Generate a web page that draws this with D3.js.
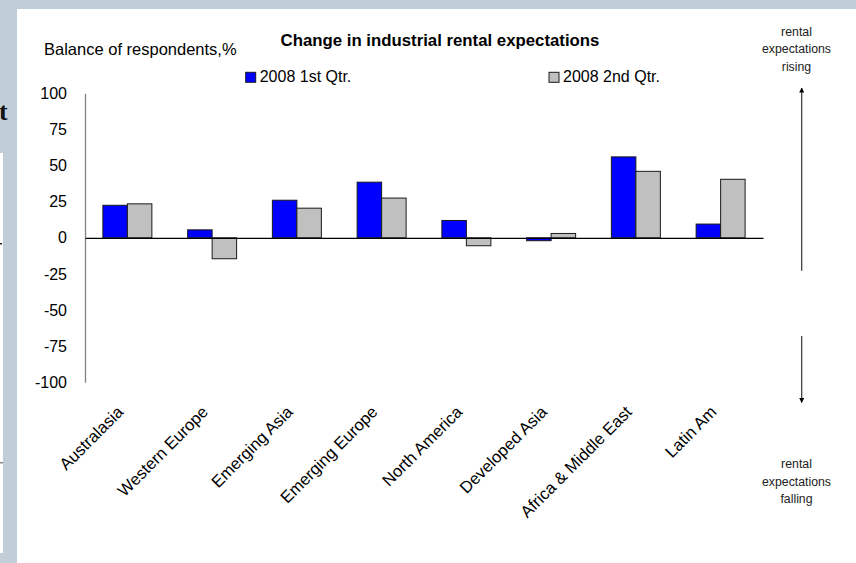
<!DOCTYPE html>
<html>
<head>
<meta charset="utf-8">
<script src="https://cdn.jsdelivr.net/npm/d3@7"></script>
<style>
  html, body { margin: 0; padding: 0; background: #c1cdd7; }
  svg { display: block; font-family: Arial, "Liberation Sans", sans-serif; }
</style>
</head>
<body>
<svg id="chart" width="856" height="563"></svg>
<script>
// Regions surveyed
const categories = ["Australasia", "Western Europe", "Emerging Asia", "Emerging Europe",
                    "North America", "Developed Asia", "Africa & Middle East", "Latin Am"];
// Balance of respondents (%) per quarter
const q1Values = [22.5, 5.5, 26, 38.5, 12, -2, 56, 9.5];
const q2Values = [23.5, -14.5, 20.5, 27.5, -5.5, 3, 46, 40.5];
const seriesNames = ["2008 1st Qtr.", "2008 2nd Qtr."];
const seriesColors = ["#0000ff", "#c0c0c0"];
const yTicks = [100, 75, 50, 25, 0, -25, -50, -75, -100];

const svg = d3.select("#chart");

// slide backdrop: white panel with a sliver of the page behind it
svg.append("rect").attr("x", 0).attr("y", 0).attr("width", 856).attr("height", 563).attr("fill", "#c1cdd7");
svg.append("rect").attr("x", 17).attr("y", 9).attr("width", 839).attr("height", 554).attr("fill", "#ffffff");
svg.append("rect").attr("x", 0).attr("y", 153).attr("width", 3).attr("height", 400).attr("fill", "#ffffff");
svg.append("text").attr("x", -1).attr("y", 120)
  .attr("font-family", "'Liberation Serif', 'Times New Roman', serif")
  .attr("font-weight", "bold").attr("font-size", 26).attr("fill", "#111").text("t");
svg.append("rect").attr("x", 0).attr("y", 243).attr("width", 2).attr("height", 1.5).attr("fill", "#222");
svg.append("rect").attr("x", 0).attr("y", 462).attr("width", 3).attr("height", 1.5).attr("fill", "#888");

// scales
const y = d3.scaleLinear().domain([-100, 100]).range([382.3, 93.3]);
const x0 = d3.scaleBand().domain(categories).range([85, 763])
  .paddingInner(0.422).paddingOuter(0.211);
const x1 = d3.scaleBand().domain([0, 1]).range([0, x0.bandwidth()]);

// y axis: labels only, gray spine
const yAxis = d3.axisLeft(y).tickValues(yTicks).tickSize(0).tickPadding(18)
  .tickFormat(d => String(d));
const gy = svg.append("g").attr("transform", "translate(85,0)").call(yAxis);
gy.select(".domain").attr("stroke", "#808080").attr("stroke-width", 1.3);
gy.selectAll("text").attr("font-size", 16).attr("fill", "#000")
  .attr("font-family", "Arial, 'Liberation Sans', sans-serif");

// bars
const rows = categories.map((c, i) => ({ cat: c, vals: [q1Values[i], q2Values[i]] }));
const groups = svg.append("g").selectAll("g").data(rows).join("g")
  .attr("transform", d => `translate(${x0(d.cat)},0)`);
groups.selectAll("rect").data(d => d.vals.map((v, k) => ({ v, k }))).join("rect")
  .attr("x", d => x1(d.k))
  .attr("width", x1.bandwidth())
  .attr("y", d => y(Math.max(0, d.v)))
  .attr("height", d => Math.abs(y(d.v) - y(0)))
  .attr("fill", d => seriesColors[d.k])
  .attr("stroke", "#1a1a1a").attr("stroke-width", 1);

// zero line with rotated category labels
const xAxis = d3.axisBottom(x0).tickSize(0).tickPadding(0);
const gx = svg.append("g").attr("transform", `translate(0,${y(0)})`).call(xAxis);
gx.select(".domain").attr("stroke", "#000").attr("stroke-width", 1.2);
gx.selectAll("text").remove();
svg.append("g").selectAll("text").data(categories).join("text")
  .attr("transform", d => `translate(${x0(d) + x0.bandwidth() / 2 - 3},413) rotate(-45)`)
  .attr("text-anchor", "end")
  .attr("font-size", 16.6).attr("fill", "#000")
  .text(d => d);

// titles
svg.append("text").attr("x", 44).attr("y", 55).attr("font-size", 16.5).attr("fill", "#000")
  .text("Balance of respondents,%");
svg.append("text").attr("x", 440).attr("y", 46).attr("text-anchor", "middle")
  .attr("font-size", 16.8).attr("font-weight", "bold").attr("fill", "#000")
  .text("Change in industrial rental expectations");

// legend
const legendX = [245.7, 549];
const legend = svg.append("g").selectAll("g").data(seriesNames).join("g")
  .attr("transform", (d, i) => `translate(${legendX[i]},72.3)`);
legend.append("rect").attr("width", 10).attr("height", 10)
  .attr("fill", (d, i) => seriesColors[i]).attr("stroke", "#1a1a1a").attr("stroke-width", 1);
legend.append("text").attr("x", 14).attr("y", 9.5).attr("font-size", 16).attr("fill", "#000")
  .text(d => d);

// direction arrows and notes on the right
const defs = svg.append("defs");
defs.append("marker").attr("id", "head").attr("viewBox", "0 0 10 10")
  .attr("refX", 9).attr("refY", 5).attr("markerWidth", 5).attr("markerHeight", 5)
  .attr("markerUnits", "userSpaceOnUse").attr("orient", "auto")
  .append("path").attr("d", "M0,0 L10,5 L0,10 Z").attr("fill", "#000");

svg.append("line").attr("x1", 801.7).attr("x2", 801.7).attr("y1", 270.7).attr("y2", 88)
  .attr("stroke", "#333").attr("stroke-width", 1.2).attr("marker-end", "url(#head)");
svg.append("line").attr("x1", 801.7).attr("x2", 801.7).attr("y1", 336).attr("y2", 402.5)
  .attr("stroke", "#333").attr("stroke-width", 1.2).attr("marker-end", "url(#head)");

const noteUp = ["rental", "expectations", "rising"];
const noteDown = ["rental", "expectations", "falling"];
svg.append("g").selectAll("text").data(noteUp).join("text")
  .attr("x", 796.5).attr("y", (d, i) => 35.5 + i * 17.6)
  .attr("text-anchor", "middle").attr("font-size", 12.3).attr("fill", "#222").text(d => d);
svg.append("g").selectAll("text").data(noteDown).join("text")
  .attr("x", 796.5).attr("y", (d, i) => 468.3 + i * 17.5)
  .attr("text-anchor", "middle").attr("font-size", 12.3).attr("fill", "#222").text(d => d);
</script>
</body>
</html>
